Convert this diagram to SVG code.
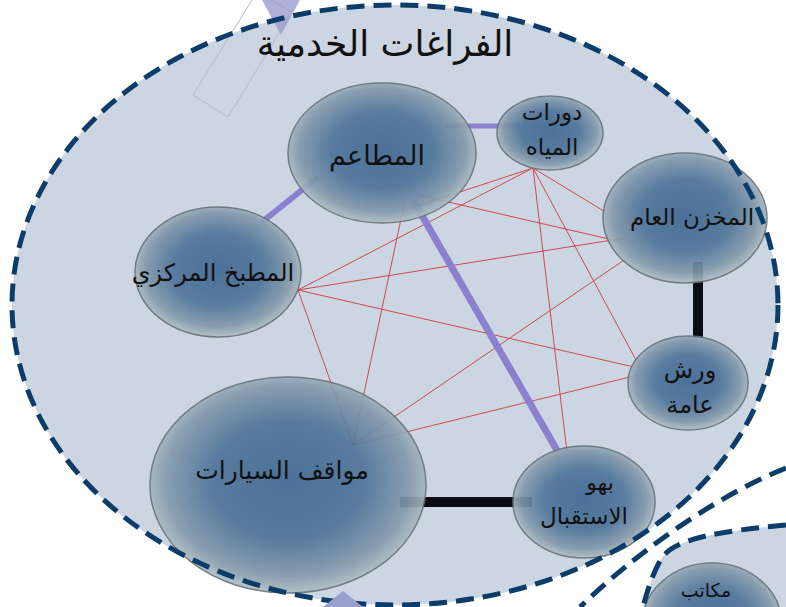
<svg xmlns="http://www.w3.org/2000/svg" width="786" height="607" viewBox="0 0 786 607">
<defs>
<radialGradient id="ng" cx="50%" cy="48%" r="55%">
<stop offset="0%" stop-color="#3f6690"/>
<stop offset="50%" stop-color="#4c7298"/>
<stop offset="80%" stop-color="#8298ab"/>
<stop offset="100%" stop-color="#c2cdcc"/>
</radialGradient>
<style>
.zone{fill:#ccd5e2}
.dash{fill:none;stroke:#0c3c69;stroke-width:5;stroke-dasharray:18 9}
.node{fill:url(#ng);stroke:#66737b;stroke-width:1.5;opacity:0.9}
.red{stroke:#d0494c;stroke-width:1;fill:none}
.pur{stroke:#8a80cf;fill:none}
.blk{stroke:#0a0d12;fill:none}
.t{font-family:"DejaVu Sans",sans-serif;fill:#111;text-anchor:middle}
</style>
</defs>
<rect width="786" height="607" fill="#ffffff"/>
<!-- zones -->
<ellipse class="zone" cx="395" cy="305" rx="383" ry="300"/>
<path class="zone" d="M786,525 C722,531 674,538 661,559 C652,575 647,592 643,607 L786,607 Z"/>
<!-- decorations -->
<polygon points="193,95 228,117 292,12 257,-8" fill="none" stroke="#b4bcc8" stroke-width="1"/>
<polygon points="262,0 300,0 281,35" fill="#9c9cd0" opacity="0.8"/>
<g id="connectors">
<line class="red" x1="298" y1="290" x2="533" y2="168"/>
<line class="red" x1="298" y1="290" x2="625" y2="238"/>
<line class="red" x1="298" y1="290" x2="634" y2="367"/>
<line class="red" x1="298" y1="290" x2="353" y2="445"/>
<line class="red" x1="420" y1="205" x2="533" y2="168"/>
<line class="red" x1="418" y1="195" x2="622" y2="242"/>
<line class="red" x1="405" y1="200" x2="353" y2="445"/>
<line class="red" x1="533" y1="168" x2="607" y2="213"/>
<line class="red" x1="533" y1="168" x2="636" y2="360"/>
<line class="red" x1="533" y1="168" x2="567" y2="452"/>
<line class="red" x1="353" y1="445" x2="633" y2="254"/>
<line class="red" x1="353" y1="445" x2="638" y2="375"/>
<line class="pur" x1="445" y1="126" x2="520" y2="126" stroke-width="5"/>
<line class="pur" x1="318" y1="177" x2="262" y2="222" stroke-width="6"/>
<line class="pur" x1="413" y1="200" x2="558" y2="452" stroke-width="7"/>
<line class="blk" x1="698" y1="262" x2="698" y2="338" stroke-width="10"/>
<line class="blk" x1="400" y1="502" x2="532" y2="502" stroke-width="10"/>
</g>
<g id="n-restaurants">
<ellipse class="node" cx="382" cy="153" rx="94" ry="70"/>
<text class="t" x="377" y="165" font-size="27">المطاعم</text>
</g>
<g id="n-wc">
<ellipse class="node" cx="550" cy="133" rx="53" ry="37"/>
<text class="t" x="552" y="120" font-size="23">دورات</text>
<text class="t" x="552" y="155" font-size="23">المياه</text>
</g>
<g id="n-store">
<ellipse class="node" cx="685" cy="218" rx="82" ry="65"/>
<text class="t" x="692" y="225" font-size="23">المخزن العام</text>
</g>
<g id="n-workshop">
<ellipse class="node" cx="688" cy="383" rx="60" ry="47"/>
<text class="t" x="690" y="378" font-size="24">ورش</text>
<text class="t" x="690" y="413" font-size="24">عامة</text>
</g>
<g id="n-kitchen">
<ellipse class="node" cx="218" cy="272" rx="83" ry="65"/>
<text class="t" x="213" y="281" font-size="24">المطبخ المركزي</text>
</g>
<g id="n-parking">
<ellipse class="node" cx="288" cy="485" rx="138" ry="108"/>
<text class="t" x="282" y="479" font-size="25">مواقف السيارات</text>
</g>
<g id="n-reception">
<ellipse class="node" cx="584" cy="502" rx="71" ry="56"/>
<text class="t" x="600" y="490" font-size="22">بهو</text>
<text class="t" x="584" y="524" font-size="23">الاستقبال</text>
</g>
<g id="n-offices">
<ellipse class="node" cx="712" cy="625" rx="70" ry="62"/>
<text class="t" x="706" y="597" font-size="19">مكاتب</text>
</g>
<!-- zone borders -->
<ellipse class="dash" cx="395" cy="305" rx="383" ry="300"/>
<path class="dash" d="M786,468 C730,490 650,540 580,607"/>
<path class="dash" d="M786,525 C722,531 674,538 661,559 C652,575 647,592 643,607"/>
<polygon points="323,607 343,591 363,607" fill="#9aa0cc"/>
<text class="t" x="385" y="56" font-size="36">الفراغات الخدمية</text>
</svg>
